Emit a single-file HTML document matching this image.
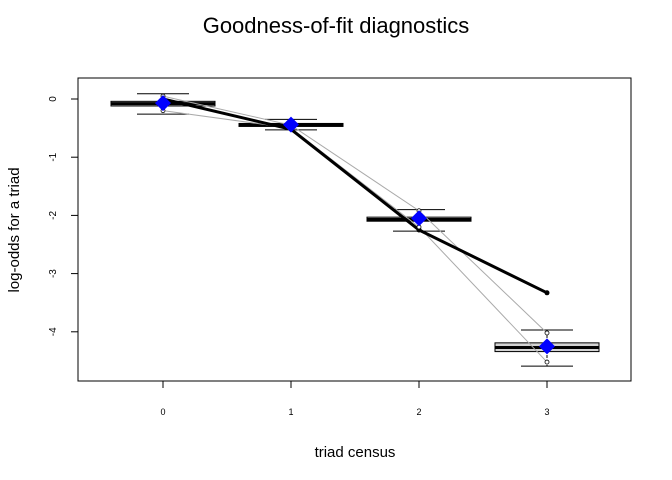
<!DOCTYPE html>
<html><head><meta charset="utf-8"><style>
body{margin:0;background:#fff;}
svg{font-family:"Liberation Sans",sans-serif;display:block;}
</style></head><body>
<svg id="c" width="672" height="480">
<text x="336" y="33" font-size="22" text-anchor="middle">Goodness-of-fit diagnostics</text>
<text x="355" y="457" font-size="15" text-anchor="middle">triad census</text>
<text transform="translate(19,230) rotate(-90)" font-size="15" text-anchor="middle">log-odds for a triad</text>
<rect x="78" y="78" width="553" height="303" fill="none" stroke="#000"/>
<g id="g"></g>
</svg>
<script>
const categories=["0","1","2","3"];
const yTicks=[0,-1,-2,-3,-4];
const boxQ1=[-0.12,-0.46,-2.10,-4.34];
const boxQ3=[-0.04,-0.42,-2.03,-4.19];
const boxMed=[-0.08,-0.44,-2.07,-4.27];
const whiskLo=[-0.26,-0.53,-2.27,-4.59];
const whiskHi=[0.09,-0.35,-1.90,-3.97];
const observed=[-0.07,-0.44,-2.05,-4.25];
const modelLine=[0.0,-0.52,-2.25,-3.33];
const greyUpper=[0.05,-0.45,-1.92,-4.02];
const greyLower=[-0.20,-0.50,-2.20,-4.52];
const NS="http://www.w3.org/2000/svg";
const g=document.getElementById('g');
const X=i=>163+128*i;
const Y=v=>99-58.2*v;
function mk(t,a){const e=document.createElementNS(NS,t);for(const k in a)e.setAttribute(k,a[k]);g.appendChild(e);return e;}
yTicks.forEach(v=>{
 const l=mk('line',{x1:71,x2:78,y1:Y(v),y2:Y(v),stroke:'#000'});
 
 
 const t=mk('text',{x:0,y:0,'font-size':10,'text-anchor':'middle',transform:`translate(52,${Y(v)}) rotate(-90)`,dy:'4'});
 t.textContent=v;
 
 
});
categories.forEach((c,i)=>{
 const l=mk('line',{x1:X(i),x2:X(i),y1:381,y2:388,stroke:'#000'});
 
 
 const t=mk('text',{x:X(i),y:415,'font-size':9,'text-anchor':'middle'});
 t.textContent=c;
 
 
});
categories.forEach((c,i)=>{
 const x=X(i);
 const w=mk('line',{x1:x,x2:x,y1:Y(whiskHi[i]),y2:Y(whiskLo[i]),stroke:'#000','stroke-dasharray':'3,2'});
 
 
 [whiskHi[i],whiskLo[i]].forEach(v=>{
  const cap=mk('line',{x1:x-26,x2:x+26,y1:Y(v),y2:Y(v),stroke:'#000'});
  
  
 });
 const b=mk('rect',{x:x-52,y:Y(boxQ3[i]),width:104,height:Math.max(3,Y(boxQ1[i])-Y(boxQ3[i])),fill:'#d3d3d3',stroke:'#000'});
 
 
 const m=mk('line',{x1:x-52,x2:x+52,y1:Y(boxMed[i]),y2:Y(boxMed[i]),stroke:'#000','stroke-width':3});
 
 
});
function line(arr,stroke,sw,name){
 const p=mk('polyline',{points:arr.map((v,i)=>X(i)+','+Y(v)).join(' '),fill:'none',stroke,'stroke-width':sw});
 
 
}
line(greyUpper,'#aaa',1,'sim-upper-line');
line(greyLower,'#aaa',1,'sim-lower-line');
line(modelLine,'#000',3,'model-line');
modelLine.forEach((v,i)=>{
 const d=mk('circle',{cx:X(i),cy:Y(v),r:2.5,fill:'#000'});
 
 
});
[greyUpper,greyLower].forEach(a=>a.forEach((v,i)=>{
 const o=mk('circle',{cx:X(i),cy:Y(v),r:2,fill:'#fff',stroke:'#000','stroke-width':0.8});
 
 
}));
observed.forEach((v,i)=>{
 const x=X(i),y=Y(v);
 const d=mk('polygon',{points:`${x},${y-8} ${x+8},${y} ${x},${y+8} ${x-8},${y}`,fill:'#0000ff'});
 
 
});
</script>
</body></html>
